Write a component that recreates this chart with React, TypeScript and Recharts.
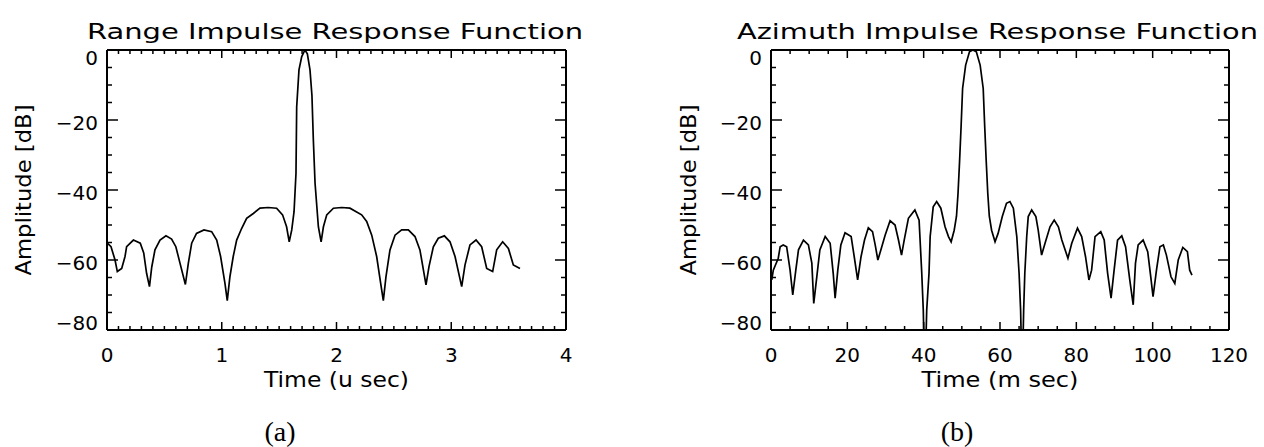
import React from 'react';
import { LineChart, Line, XAxis, YAxis, ReferenceLine } from 'recharts';

// range impulse response (u sec, dB)
const rangeTime = [
  0.003, 0.035, 0.07, 0.09, 0.128, 0.157, 0.171, 0.23, 0.29, 0.32, 0.345, 0.37, 0.39, 0.418, 0.462,
  0.514, 0.563, 0.6, 0.636, 0.683, 0.709, 0.738, 0.78, 0.845, 0.912, 0.956, 0.99, 1.028, 1.048,
  1.071, 1.1, 1.13, 1.173, 1.217, 1.275, 1.333, 1.405, 1.478, 1.53, 1.565, 1.588, 1.61, 1.63, 1.647,
  1.653, 1.673, 1.697, 1.725, 1.746, 1.769, 1.786, 1.798, 1.813, 1.842, 1.866, 1.886, 1.915, 1.973,
  2.045, 2.117, 2.219, 2.263, 2.307, 2.35, 2.385, 2.408, 2.431, 2.466, 2.51, 2.568, 2.626, 2.684,
  2.727, 2.78, 2.806, 2.844, 2.887, 2.94, 2.989, 3.033, 3.091, 3.12, 3.163, 3.216, 3.265, 3.309,
  3.361, 3.396, 3.448, 3.498, 3.541, 3.599,
];
const rangeAmp = [
  -55.2, -56.2, -60, -63.3, -62.4, -59, -56.2, -54.3, -55.2, -58, -63.8, -67.6, -62, -57.1, -54.3,
  -53.1, -54, -56.2, -60.9, -67, -60.9, -55.2, -52.4, -51.4, -51.9, -54.3, -59, -66.7, -71.6,
  -64.8, -59, -54.3, -51, -48.1, -46.7, -45.2, -45, -45.2, -47.1, -50.5, -54.8, -51.4, -46.2, -35.2,
  -16.2, -5.7, -1.9, 0, -1.1, -5.7, -13, -25.5, -38, -50.5, -54.8, -50.5, -47.1, -45.2,
  -45, -45.2, -47.1, -49, -52.9, -59, -66.7, -71.6, -64.8, -57.1, -52.9, -51.4, -51.4, -53.3,
  -57.1, -67.1, -61.9, -56.2, -53.8, -53.1, -54.8, -59, -67.6, -61.4, -55.7, -54.3, -56.2, -62.4,
  -63.3, -57.1, -54.8, -56.7, -61.4, -62.4,
];

// azimuth impulse response (m sec, dB)
const azTime = [
  0.2, 0.6, 1.9, 2.4, 3.2, 4.1, 5.0, 5.7, 6.5, 7.2, 8.5, 9.8, 10.7, 11.2, 12.0, 12.8, 14.2, 15.5,
  16.3, 16.8, 17.5, 18.3, 19.4, 21.0, 21.8, 22.7, 23.6, 24.5, 25.5, 26.6, 27.3, 28.0, 28.8, 29.9,
  31.2, 32.5, 33.4, 34.2, 34.9, 36.0, 37.7, 38.8, 39.5, 39.9, 40.3, 40.8, 41.4, 41.7, 42.5, 43.4,
  44.5, 45.6, 46.5, 47.2, 48.0, 48.6, 49.0, 49.4, 49.8, 50.2, 51.0, 52.0, 52.9, 53.8, 54.8, 55.6,
  56.0, 56.4, 56.8, 57.2, 57.8, 58.7, 59.5, 60.6, 61.7, 62.6, 63.5, 64.4, 65.0, 65.4, 65.8, 66.2,
  66.5, 67.0, 67.4, 68.3, 69.4, 70.0, 70.9, 71.8, 73.1, 74.2, 75.3, 76.2, 77.8, 78.8, 80.3, 81.4,
  82.4, 83.3, 84.0, 84.9, 86.4, 87.3, 88.2, 89.1, 89.9, 90.8, 91.9, 92.9, 94.0, 94.9, 95.5, 96.2,
  97.5, 98.7, 99.5, 100.1, 101.0, 101.9, 102.8, 103.6, 104.8, 105.8, 106.7, 107.9, 109.1, 109.7,
  110.3,
];
const azAmp = [
  -65.7, -62.9, -59.5, -56.2, -55.7, -56.2, -62.9, -70, -62.9, -57.1, -54.3, -55.7, -60.9, -72.4,
  -64.8, -57.1, -53.3, -55.2, -63.8, -70.9, -62.9, -55.7, -52.2, -53.3, -59, -65.7, -59, -54.3,
  -50.8, -51.9, -55.7, -60, -57.1, -52.9, -48.8, -50, -54.3, -58.6, -54.3, -48.1, -45.7, -48.6,
  -63.8, -74.3, -95, -74.3, -63.8, -53.3, -44.8, -43.3, -45.2, -50.5, -53.3, -54.8, -51.5, -47.5,
  -41, -32, -22, -11, -4.3, -0.5, 0, -0.5, -4.3, -11, -22, -32, -41, -47.5, -51.5, -54.8, -52.4,
  -47.6, -43.8, -43.3, -45.2, -53.3, -63.8, -74.3, -95, -74.3, -63.8, -53.3, -47.6, -45.7, -47.6,
  -51.4, -58.6, -55.2, -50.5, -48.6, -50.5, -54.3, -59.5, -55.2, -50.9, -53.3, -59, -65.7, -62.9,
  -53.3, -51.9, -54.3, -63.8, -70.9, -62.9, -54.3, -53.1, -56.2, -65.7, -72.8, -60.9, -55.7, -54.3,
  -57.6, -64.8, -70.5, -62.9, -56.2, -55.7, -58.6, -64.8, -66.7, -60, -56.4, -57.6, -62.9, -64.3,
];

const rangeData = rangeTime.map((t, i) => ({ t, amp: rangeAmp[i] }));
const azData = azTime.map((t, i) => ({ t, amp: azAmp[i] }));

// tick labels
const rangeXLabels = [0, 1, 2, 3, 4];
const azXLabels = [0, 20, 40, 60, 80, 100, 120];
const ampLabels = [0, -20, -40, -60, -80];

// minor tick steps
const rangeXTicks = Array.from({ length: 41 }, (_, i) => i / 10);
const azXTicks = Array.from({ length: 25 }, (_, i) => i * 5);
const ampTicks = Array.from({ length: 17 }, (_, i) => -80 + i * 5);

const FONT = '"DejaVu Sans", sans-serif';
const PLOT_H = 280;

const fmt = (v: number) => (v < 0 ? '\u2212' + Math.abs(v) : String(v));

// draws the inward tick on this axis and the mirrored one on the opposite side of the box
const makeTick = (side: 'bottom' | 'left', majors: number[], span: number) => (props: any) => {
  const { x, y, payload } = props;
  const v = payload.value;
  const major = majors.some((m) => Math.abs(m - v) < 1e-6);
  const xl = major ? 8 : 4;
  const yl = major ? 11 : 5;
  if (side === 'bottom') {
    return (
      <g>
        <line x1={x} y1={y} x2={x} y2={y - xl} stroke="#000" strokeWidth={1.5} />
        <line x1={x} y1={y - span} x2={x} y2={y - span + xl} stroke="#000" strokeWidth={1.5} />
        {major && (
          <text x={x} y={y + 32} textAnchor="middle" fontFamily={FONT} fontSize={20} fill="#000">
            {fmt(v)}
          </text>
        )}
      </g>
    );
  }
  const off = v === 0 ? 15 : v === -80 ? 0 : 10;
  return (
    <g>
      <line x1={x} y1={y} x2={x + yl} y2={y} stroke="#000" strokeWidth={1.5} />
      <line x1={x + span} y1={y} x2={x + span - yl} y2={y} stroke="#000" strokeWidth={1.5} />
      {major && (
        <text x={x - 9} y={y + off} textAnchor="end" fontFamily={FONT} fontSize={20} fill="#000">
          {fmt(v)}
        </text>
      )}
    </g>
  );
};

const axisLine = { stroke: '#000', strokeWidth: 2 };

type PanelProps = {
  data: { t: number; amp: number }[];
  xMax: number;
  xTicks: number[];
  xMajors: number[];
  ml: number;
  mr: number;
  plotLeft: number;
  plotRight: number;
  title: string;
  titleX: number;
  titleLen: number;
  xLabel: string;
  xLabelLen: number;
  yLabelX: number;
  caption: string;
  captionX: number;
};

const Panel = (p: PanelProps) => {
  const cx = (p.plotLeft + p.plotRight) / 2;
  const plotW = p.plotRight - p.plotLeft;
  return (
    <LineChart width={632} height={447} data={p.data} margin={{ top: 50, right: p.mr, bottom: 57, left: p.ml }}>
      <XAxis
        dataKey="t"
        type="number"
        domain={[0, p.xMax]}
        ticks={p.xTicks}
        interval={0}
        allowDataOverflow
        height={60}
        tickSize={0}
        tickMargin={0}
        axisLine={axisLine}
        tickLine={false}
        tick={makeTick('bottom', p.xMajors, PLOT_H)}
      />
      <YAxis
        type="number"
        domain={[-80, 0]}
        ticks={ampTicks}
        interval={0}
        allowDataOverflow
        width={60}
        tickSize={0}
        tickMargin={0}
        axisLine={axisLine}
        tickLine={false}
        tick={makeTick('left', ampLabels, plotW)}
      />
      <ReferenceLine y={0} stroke="#000" strokeWidth={2} />
      <ReferenceLine x={p.xMax} stroke="#000" strokeWidth={2} />
      <Line
        dataKey="amp"
        type="linear"
        stroke="#000"
        strokeWidth={1.7}
        dot={false}
        isAnimationActive={false}
      />
      <text
        x={p.titleX}
        y={39}
        textLength={p.titleLen}
        lengthAdjust="spacingAndGlyphs"
        fontFamily={FONT}
        fontSize={21}
        fill="#000"
      >
        {p.title}
      </text>
      <text
        x={cx}
        y={387}
        textAnchor="middle"
        textLength={p.xLabelLen}
        lengthAdjust="spacingAndGlyphs"
        fontFamily={FONT}
        fontSize={21}
        fill="#000"
      >
        {p.xLabel}
      </text>
      <text
        x={p.yLabelX}
        y={190}
        transform={`rotate(-90 ${p.yLabelX} 190)`}
        textAnchor="middle"
        dominantBaseline="central"
        textLength={171}
        lengthAdjust="spacingAndGlyphs"
        fontFamily={FONT}
        fontSize={21}
        fill="#000"
      >
        Amplitude [dB]
      </text>
      <text
        x={p.captionX}
        y={441}
        textAnchor="middle"
        fontFamily='"Liberation Serif", "Times New Roman", serif'
        fontSize={28}
        fill="#000"
      >
        {p.caption}
      </text>
    </LineChart>
  );
};

export default function App() {
  return (
    <div style={{ position: 'absolute', left: 0, top: 0, width: 1264, height: 447, background: '#fff' }}>
      <div style={{ position: 'absolute', left: 0, top: 0 }}>
        <Panel
          data={rangeData}
          xMax={4}
          xTicks={rangeXTicks}
          xMajors={rangeXLabels}
          ml={47}
          mr={66}
          plotLeft={107}
          plotRight={566}
          title="Range Impulse Response Function"
          titleX={87}
          titleLen={496}
          xLabel="Time (u sec)"
          xLabelLen={145}
          yLabelX={24}
          caption="(a)"
          captionX={280}
        />
      </div>
      <div style={{ position: 'absolute', left: 632, top: 0 }}>
        <Panel
          data={azData}
          xMax={120}
          xTicks={azXTicks}
          xMajors={azXLabels}
          ml={79}
          mr={35}
          plotLeft={139}
          plotRight={597}
          title="Azimuth Impulse Response Function"
          titleX={105}
          titleLen={521}
          xLabel="Time (m sec)"
          xLabelLen={157}
          yLabelX={57}
          caption="(b)"
          captionX={325}
        />
      </div>
    </div>
  );
}
